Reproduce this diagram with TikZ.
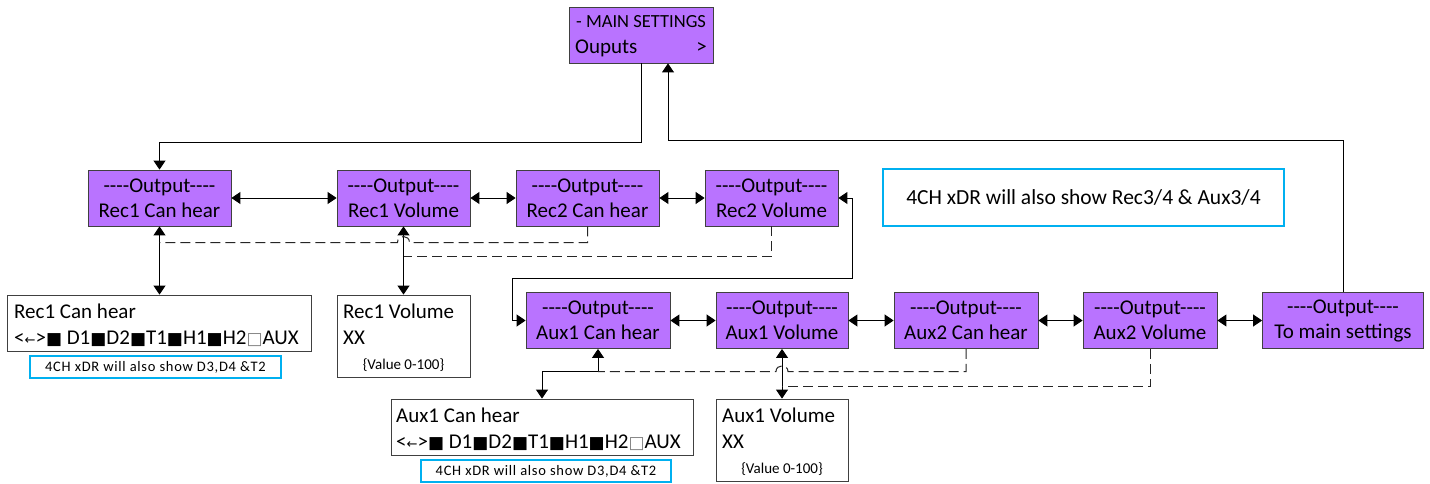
\documentclass[tikz,border=0pt]{standalone}
\usepackage{fontspec}
\setmainfont{Carlito}
\newfontfamily\symf{DejaVu Sans}
\usetikzlibrary{arrows.meta}
\definecolor{boxpurple}{RGB}{185,115,255}
\definecolor{noteblue}{RGB}{0,176,240}
\newcommand{\sqf}{{\symf\fontsize{17}{17}\selectfont ■}}
\newcommand{\sqe}{{\symf\fontsize{17}{17}\selectfont\color{gray}□}}
\newcommand{\larrow}{{\symf\fontsize{13}{13}\selectfont ←}}
\newcommand{\chanline}{<\larrow>\sqf\ D1\sqf D2\sqf T1\sqf H1\sqf H2\sqe AUX}
\newcommand{\dsh}{-{}-{}-{}-}
\newcommand{\outp}{\dsh Output\dsh}
\newcommand{\smallnote}{\fontsize{14.5}{16}\selectfont\addfontfeatures{LetterSpace=5}}
\begin{document}
\begin{tikzpicture}[x=1pt,y=-1pt,
  menu/.style={draw=black!75, fill=boxpurple, line width=0.8pt, minimum height=56pt,
    inner sep=0pt, align=center, font=\fontsize{21}{25}\selectfont},
  detail/.style={draw=black!75, fill=white, line width=0.8pt, inner sep=0pt},
  note/.style={draw=noteblue, line width=1.3pt, inner sep=0pt, align=center},
  txt/.style={inner sep=0pt, anchor=base west, font=\fontsize{21}{25}\selectfont},
  small/.style={inner sep=0pt, anchor=base, font=\fontsize{15}{17}\selectfont},
  conn/.style={line width=0.9pt, black},
  darr/.style={conn, {Triangle[length=9pt,width=12pt]}-{Triangle[length=9pt,width=12pt]}},
  sarr/.style={conn, -{Triangle[length=9pt,width=12pt]}},
  dconn/.style={line width=1pt, black!85, dash pattern=on 10pt off 5pt},
]
\useasboundingbox (0,0) rectangle (1430,484);

% main settings
\node[detail, fill=boxpurple, minimum width=144pt, minimum height=56pt] (main) at (641,35) {};
\node[txt, font=\fontsize{18.5}{20}\selectfont] (mt1) at (576,28) {- MAIN SETTINGS};
\node[txt] (mt2) at (575,54) {Ouputs};
\node[txt, anchor=base east] (mt3) at (707,54) {>};

% row 1
\node[menu, minimum width=143pt] (r1ch) at (159.5,198) {\outp\\Rec1 Can hear};
\node[menu, minimum width=133pt] (r1v) at (403.5,198) {\outp\\Rec1 Volume};
\node[menu, minimum width=143pt] (r2ch) at (587.5,198) {\outp\\Rec2 Can hear};
\node[menu, minimum width=133pt] (r2v) at (771.5,198) {\outp\\Rec2 Volume};

% row 2
\node[menu, minimum width=144pt] (a1ch) at (598,320.5) {\outp\\Aux1 Can hear};
\node[menu, minimum width=132pt] (a1v) at (782,320.5) {\outp\\Aux1 Volume};
\node[menu, minimum width=144pt] (a2ch) at (966,320.5) {\outp\\Aux2 Can hear};
\node[menu, minimum width=134pt] (a2v) at (1150,320.5) {\outp\\Aux2 Volume};
\node[menu, minimum width=161pt] (tm) at (1343,320.5) {\outp\\To main settings};

% big note
\node[note, minimum width=401pt, minimum height=57pt, font=\fontsize{21.5}{25}\selectfont] (bignote) at (1083.5,197.5) {4CH xDR will also show Rec3/4 \& Aux3/4};

% detail boxes
\node[detail, minimum width=304pt, minimum height=56pt] (r1chd) at (159,323) {};
\node[txt] (r1chd1) at (14,318) {Rec1 Can hear};
\node[txt] (r1chd2) at (14,344) {\chanline};
\node[note, minimum width=251pt, minimum height=22pt, font=\smallnote] (r1note) at (155.5,367) {4CH xDR will also show D3,D4 \&T2};

\node[detail, minimum width=133pt, minimum height=82pt] (r1vd) at (403.5,336) {};
\node[txt] (r1vd1) at (343,318) {Rec1 Volume};
\node[txt] (r1vd2) at (343,344) {XX};
\node[small] (r1vd3) at (403.5,369) {\{Value 0-100\}};

\node[detail, minimum width=302pt, minimum height=56pt] (a1chd) at (542,427) {};
\node[txt] (a1chd1) at (396,422) {Aux1 Can hear};
\node[txt] (a1chd2) at (396,448) {\chanline};
\node[note, minimum width=250pt, minimum height=22pt, font=\smallnote] (a1note) at (546,471) {4CH xDR will also show D3,D4 \&T2};

\node[detail, minimum width=132pt, minimum height=82pt] (a1vd) at (782,440) {};
\node[txt] (a1vd1) at (722,422) {Aux1 Volume};
\node[txt] (a1vd2) at (722,448) {XX};
\node[small] (a1vd3) at (782,473) {\{Value 0-100\}};

% main links
\draw[sarr] (main.south) -- ++(0,79) -| (r1ch.north);
\draw[sarr] (tm.north) -- ++(0,-152) -| ([xshift=27pt]main.south);

% horizontal row links
\draw[darr] (r1ch.east) -- (r1v.west);
\draw[darr] (r1v.east) -- (r2ch.west);
\draw[darr] (r2ch.east) -- (r2v.west);
\draw[darr] (r2v.east) -- (852,198) -- (852,278) -- (512,278) -- (512,320.5) -- (a1ch.west);
\draw[darr] (a1ch.east) -- (a1v.west);
\draw[darr] (a1v.east) -- (a2ch.west);
\draw[darr] (a2ch.east) -- (a2v.west);
\draw[darr] (a2v.east) -- (tm.west);

% detail links
\draw[darr] (r1ch.south) -- (r1ch.south |- r1chd.north);
\draw[darr] (r1v.south) -- (r1vd.north);
\draw[darr] (a1ch.south) -- ++(0,23) -| (a1chd.north);
\draw[darr] (a1v.south) -- (a1vd.north);

% dashed shared links
\coordinate (j1) at (159.5,242.5);
\coordinate (j2) at (403.5,256.5);
\coordinate (j3) at (598,371.5);
\coordinate (j4) at (782,386.5);
\draw[dconn] (r2ch.south) -- (587.5,242.5) -- (409.5,242.5) .. controls (409.5,234.5) and (397.5,234.5) .. (397.5,242.5) -- (j1);
\draw[dconn] (r2v.south) -- (771.5,256.5) -- (j2);
\draw[dconn] (a2ch.south) -- (966,371.5) -- (788,371.5) .. controls (788,364) and (776,364) .. (776,371.5) -- (j3);
\draw[dconn] (a2v.south) -- (1150,386.5) -- (j4);
\end{tikzpicture}
\end{document}
